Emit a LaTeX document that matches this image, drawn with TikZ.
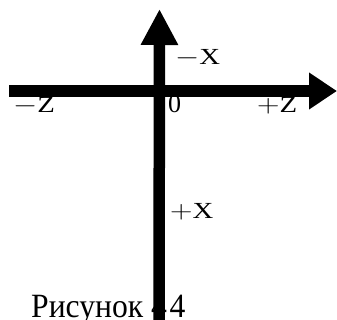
\documentclass[tikz,border=0pt]{standalone}
\usepackage{fontspec}
\setmainfont{Liberation Serif}
\usetikzlibrary{arrows.meta}
\newcommand\axlbl[1]{\scalebox{1.25}[1]{\fontsize{23}{23}\selectfont #1}}
\begin{document}
\begin{tikzpicture}[x=1pt,y=-1pt,
  axisline/.style={line width=11.5pt,-{Triangle[length=36pt,width=35pt]}},
  lbl/.style={inner sep=0pt,anchor=west}]
\useasboundingbox (0,0) rectangle (337,320);
\node[inner sep=0pt,anchor=base west] (cap) at (31,317) {\scalebox{0.93}[1]{\fontsize{34}{34}\selectfont Рисунок 4\kern3pt4}};
\coordinate (vb) at (159,324);
\coordinate (vt) at (159.5,9);
\coordinate (hl) at (9,91);
\coordinate (hr) at (337,91);
\draw[axisline] (vb) -- (vt);
\draw[axisline,-{Triangle[length=28pt,width=35pt]}] (hl) -- (hr);
\node[lbl] (mx) at (175,58) {\axlbl{$-$X}};
\node[lbl] (mz) at (13,106) {\axlbl{$-$Z}};
\node[lbl] (pz) at (257,106) {\axlbl{$+$Z}};
\node[lbl] (px) at (170,212) {\axlbl{$+$X}};
\node[lbl] (zero) at (168,104) {\fontsize{26}{26}\selectfont 0};
\end{tikzpicture}
\end{document}
